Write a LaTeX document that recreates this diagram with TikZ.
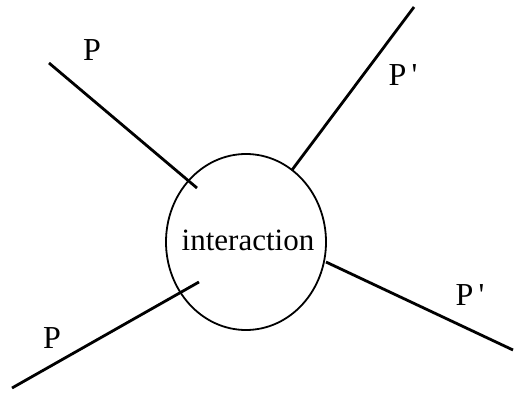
\documentclass[tikz,border=0pt]{standalone}
\usepackage{fontspec}
\setmainfont{Liberation Serif}
\usetikzlibrary{shapes.geometric}

\begin{document}
\begin{tikzpicture}[x=1pt, y=-1pt,
  blob/.style={draw, ellipse, line width=1.8pt, minimum width=160pt, minimum height=176pt, inner sep=0pt},
  word/.style={inner sep=0pt, font=\fontsize{31}{35}\selectfont},
  leg/.style={line width=2.8pt},
  lab/.style={inner sep=0pt, font=\fontsize{32}{36}\selectfont}
]
\useasboundingbox (0,0) rectangle (514,401);

\node[blob] (inter) at (246,242) {};
\node[word] (interlabel) at (248,240) {interaction};

% incoming legs
\coordinate (inA) at (49,63);
\coordinate (inAend) at (197,188);
\coordinate (inB) at (12,388);
\coordinate (inBend) at (199,282);
% outgoing legs
\coordinate (outA) at (414,7);
\coordinate (outAend) at (292,170);
\coordinate (outB) at (513,350);
\coordinate (outBend) at (326,262);

\draw[leg] (inA) -- (inAend);
\draw[leg] (inB) -- (inBend);
\draw[leg] (outAend) -- (outA);
\draw[leg] (outBend) -- (outB);

\node[lab] (pinA) at (92,50) {P};
\node[lab] (pinB) at (52,338) {P};
\node[lab] (poutA) at (403,75) {P\,\textquotesingle};
\node[lab] (poutB) at (470,295) {P\,\textquotesingle};

\end{tikzpicture}
\end{document}
